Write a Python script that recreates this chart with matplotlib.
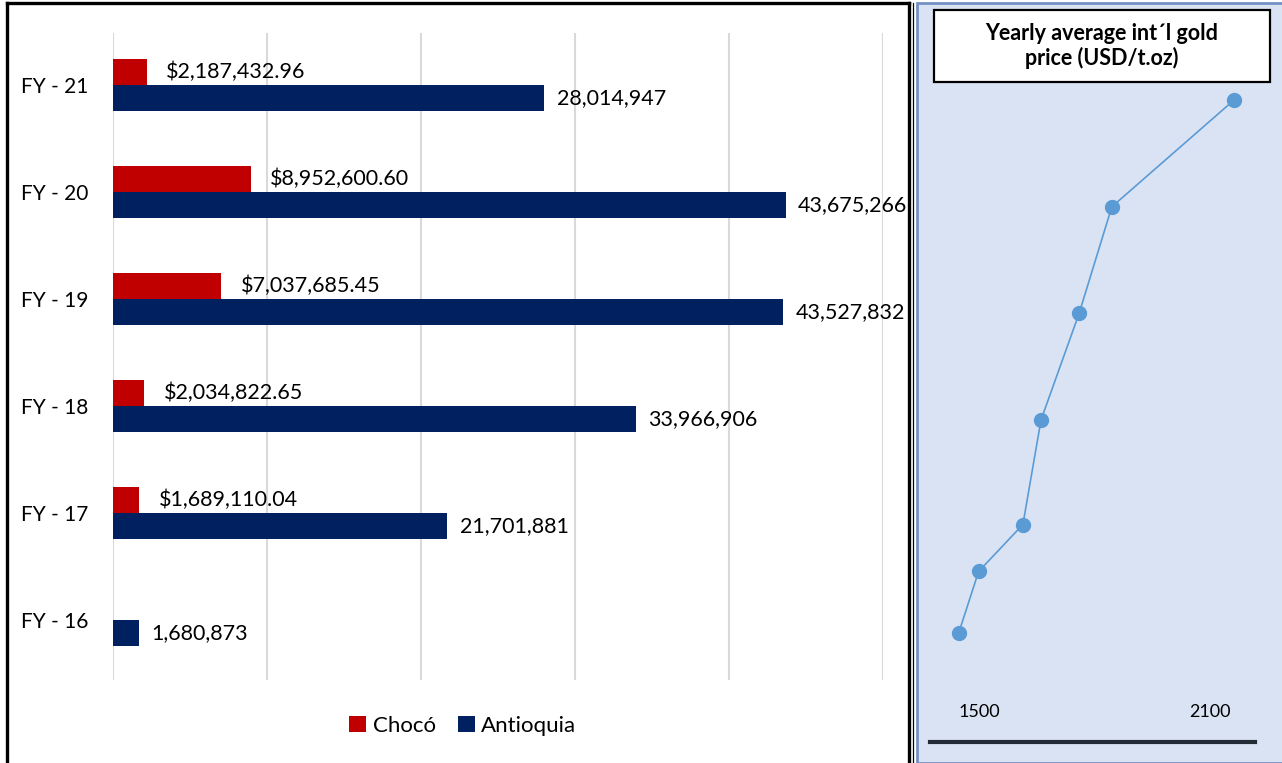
import numpy as np
import matplotlib.pyplot as plt
from matplotlib.patches import Rectangle
from matplotlib.lines import Line2D

plt.rcParams['font.family'] = ['Lato', 'DejaVu Sans']

years = ['FY - 16', 'FY - 17', 'FY - 18', 'FY - 19', 'FY - 20', 'FY - 21']
choco = [np.nan, 1689110.04, 2034822.65, 7037685.45, 8952600.60, 2187432.96]
antioquia = [1680873, 21701881, 33966906, 43527832, 43675266, 28014947]

gold_period = [0, 0.58, 1.02, 2.0, 3.0, 4.0, 5.0]
gold_price = [1447, 1499, 1614, 1661, 1760, 1845, 2162]
gold_ticks = [1500, 2100]

RED = '#c00000'
NAVY = '#002060'

W, H = 1282, 763
fig = plt.figure(figsize=(W / 100, H / 100), dpi=100)


def fx(px):
    return px / W


def fy(py):
    return 1 - py / H


# frames
fig.add_artist(Line2D([fx(6.5), fx(6.5)], [0, fy(3)], color='black', lw=2.4))
fig.add_artist(Line2D([fx(6.5), fx(908.5)], [fy(3), fy(3)], color='black', lw=2.4))
fig.add_artist(Line2D([fx(908.5), fx(908.5)], [0, fy(3)], color='black', lw=2.4))
fig.add_artist(Line2D([fx(912.5), fx(912.5)], [0, fy(3)], color='black', lw=0.9))
fig.add_artist(Rectangle((fx(917), fy(763)), fx(W) - fx(917) + 0.01, fy(3) - fy(763),
                         facecolor='#dae3f3', edgecolor='#7391c3', lw=2,
                         transform=fig.transFigure, zorder=0))

# bar chart
ax = fig.add_axes([fx(113), fy(680), fx(883) - fx(113), fy(33) - fy(680)])
y = np.arange(len(years))
h = 0.245
b1 = ax.barh(y + h / 2, choco, height=h, color=RED, label='Chocó')
b2 = ax.barh(y - h / 2, antioquia, height=h, color=NAVY, label='Antioquia')
ax.bar_label(b1, labels=['' if np.isnan(v) else f'${v:,.2f}' for v in choco],
             padding=14, fontsize=15.5)
ax.bar_label(b2, labels=[f'{v:,.0f}' for v in antioquia], padding=9, fontsize=15.5)
ax.set_xlim(0, 50000000)
ax.set_ylim(-0.561, 5.486)
ax.set_xticks(np.arange(0, 50000001, 10000000))
ax.set_xticklabels([])
ax.set_yticks(y)
ax.set_yticklabels(years, fontsize=15)
ax.tick_params(length=0, pad=18)
ax.grid(axis='x', color='#d9d9d9', lw=1.5)
ax.set_axisbelow(True)
for s in ax.spines.values():
    s.set_visible(False)

fig.legend(handles=[b1, b2], loc='center', bbox_to_anchor=(fx(463), fy(726)),
           ncol=2, frameon=False, fontsize=16, handlelength=0.75, handleheight=0.75,
           handletextpad=0.3, columnspacing=1.0)

# gold price line chart
ax2 = fig.add_axes([fx(930), fy(741.5), fx(1255) - fx(930), fy(33) - fy(741.5)])
ax2.patch.set_alpha(0)
ax2.plot(gold_price, gold_period, color='#5b9bd5', lw=1.2, marker='o', markersize=10)
ax2.set_xlim(1372.7, 2216.9)
ax2.set_ylim(-1.015, 5.63)
ax2.set_xticks(gold_ticks)
ax2.set_xticklabels([str(t) for t in gold_ticks], fontsize=13)
ax2.tick_params(axis='x', length=0, pad=-27)
ax2.set_yticks([])
for s in ['top', 'left', 'right']:
    ax2.spines[s].set_visible(False)
ax2.spines['bottom'].set_linewidth(3)
ax2.spines['bottom'].set_color('#222b36')

# title box
fig.add_artist(Rectangle((fx(934), fy(82)), fx(1270) - fx(934), fy(10) - fy(82),
                         facecolor='white', edgecolor='black', lw=1.6,
                         transform=fig.transFigure, zorder=3))
fig.text(fx(1102), fy(46), 'Yearly average int\u00b4l gold\nprice (USD/t.oz)',
         ha='center', va='center', fontsize=15.5, fontweight='bold',
         linespacing=1.2, zorder=4)

fig.savefig('out.png', dpi=100)
